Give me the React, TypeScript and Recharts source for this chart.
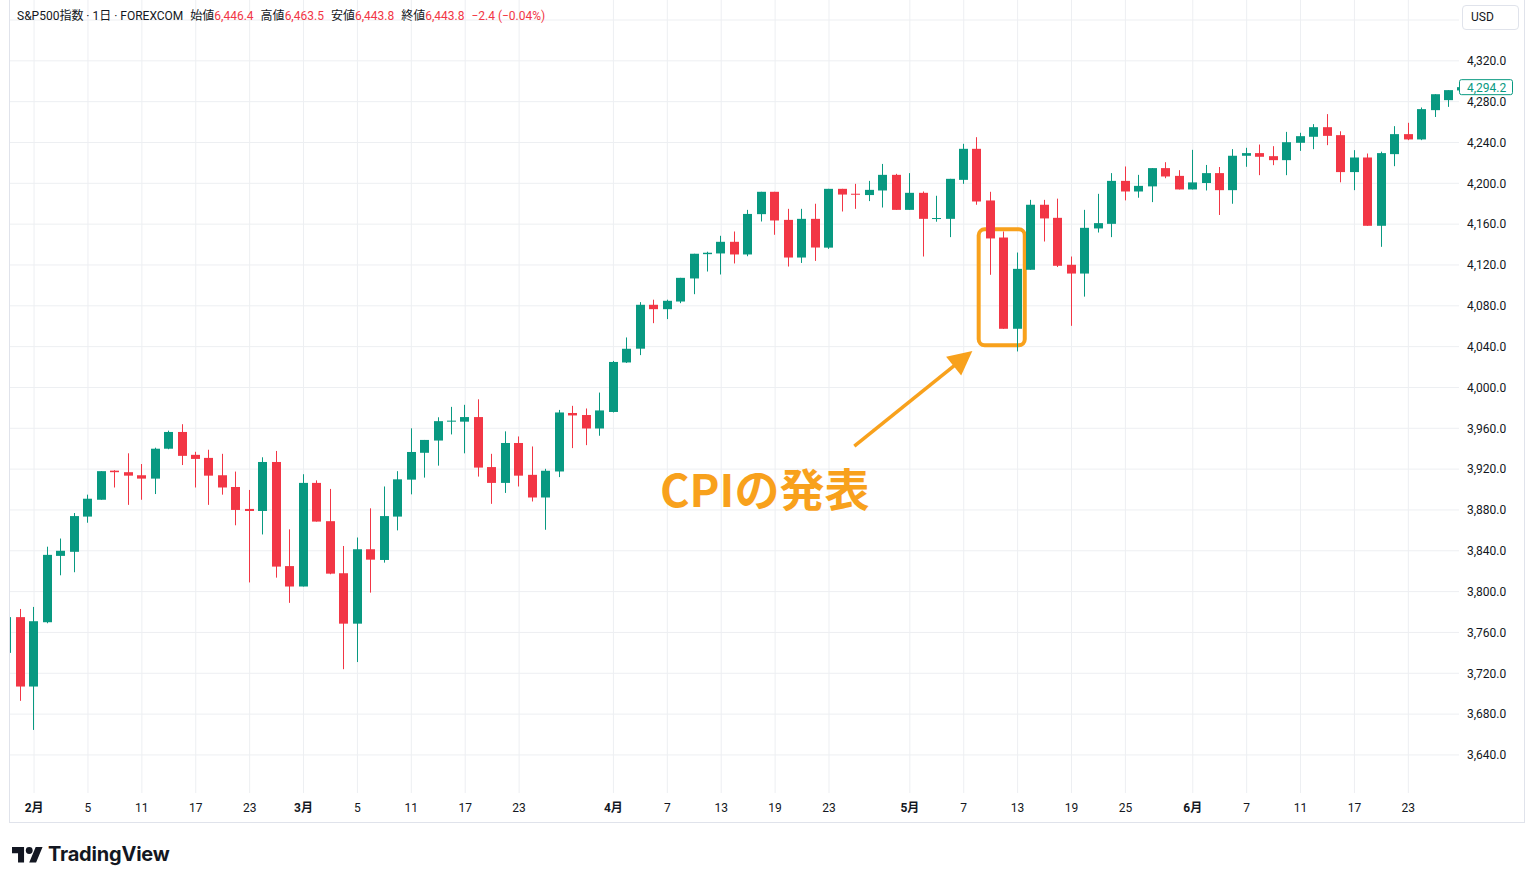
import React from 'react';
import {
  ComposedChart, Bar, XAxis, YAxis, CartesianGrid, ReferenceLine, ReferenceArea,
} from 'recharts';

// S&P500 CFD daily candles, Jan 28 - Jun 29 (first and last ones are cut by the plot edges)
const dates = [
  '1/28', '1/29',
  '2/1', '2/2', '2/3', '2/4', '2/5', '2/8', '2/9', '2/10', '2/11', '2/12', '2/15', '2/16', '2/17', '2/18', '2/19', '2/22', '2/23', '2/24', '2/25', '2/26',
  '3/1', '3/2', '3/3', '3/4', '3/5', '3/8', '3/9', '3/10', '3/11', '3/12', '3/15', '3/16', '3/17', '3/18', '3/19', '3/22', '3/23', '3/24', '3/25', '3/26', '3/29', '3/30', '3/31',
  '4/1', '4/2', '4/5', '4/6', '4/7', '4/8', '4/9', '4/12', '4/13', '4/14', '4/15', '4/16', '4/19', '4/20', '4/21', '4/22', '4/23', '4/26', '4/27', '4/28', '4/29', '4/30',
  '5/3', '5/4', '5/5', '5/6', '5/7', '5/10', '5/11', '5/12', '5/13', '5/14', '5/17', '5/18', '5/19', '5/20', '5/21', '5/24', '5/25', '5/26', '5/27', '5/28', '5/31',
  '6/1', '6/2', '6/3', '6/4', '6/7', '6/8', '6/9', '6/10', '6/11', '6/14', '6/15', '6/16', '6/17', '6/18', '6/21', '6/22', '6/23', '6/24', '6/25', '6/28', '6/29',
];

const opens = [
  3740, 3775, 3707, 3770, 3835, 3839, 3873.5, 3890, 3918.5, 3917, 3914, 3910.7, 3940, 3956.4, 3934, 3931, 3914, 3902.5, 3881, 3879, 3927, 3825,
  3805, 3906.5, 3869, 3818, 3768.6, 3841.5, 3831, 3873.5, 3909.7, 3936, 3948, 3966.5, 3966.5, 3971, 3922, 3906.5, 3945.6, 3914.4, 3892.2, 3917.7, 3975, 3973, 3959.8,
  3976, 4024.5, 4038, 4081, 4076.7, 4084.2, 4106.8, 4130.6, 4131.3, 4142.7, 4130.3, 4169.8, 4191.7, 4164.2, 4127.3, 4165.2, 4137, 4194.6, 4189.8, 4188.5, 4193, 4208.3,
  4174, 4190.7, 4165.2, 4165.2, 4203.4, 4233.8, 4183.2, 4146.9, 4057.5, 4115.3, 4179, 4166.2, 4120.2, 4111.6, 4155.8, 4160.3, 4202.4, 4192, 4197, 4214.9, 4207.3,
  4194, 4200.3, 4210, 4193.3, 4227, 4229.6, 4226.6, 4222.7, 4239.7, 4245.6, 4255, 4247.2, 4211, 4225.3, 4158.4, 4228.6, 4248.2, 4243, 4271.7, 4281.5, 4291,
];

const highs = [
  3790, 3783, 3785, 3844, 3852, 3877, 3895, 3918, 3919, 3935.5, 3925, 3941, 3957.7, 3964, 3937, 3939, 3935, 3917.6, 3899.6, 3931.6, 3937.8, 3861,
  3915, 3909, 3900.6, 3844.7, 3853, 3881.6, 3903, 3918, 3960, 3948.6, 3970.8, 3981, 3983, 3988.4, 3935, 3957, 3952, 3942.2, 3920.3, 3978, 3982, 3979.4, 3995,
  4026, 4049, 4083.6, 4086, 4086, 4107.4, 4131, 4133, 4148.6, 4152.8, 4174, 4191.7, 4191.7, 4175, 4175, 4180, 4194.6, 4194.6, 4199.5, 4202.4, 4219, 4209.3,
  4210, 4192, 4187.8, 4204.4, 4238.7, 4245.2, 4191.7, 4152.8, 4132.2, 4183.8, 4183.8, 4185, 4128.3, 4174, 4189.7, 4210, 4216.5, 4208.3, 4214.9, 4220.7, 4212.9,
  4232.8, 4218, 4216, 4233.5, 4234.8, 4238, 4236.4, 4250.4, 4249.5, 4258, 4267.8, 4251, 4232.5, 4229.2, 4231, 4256, 4259.3, 4274.3, 4287.3, 4291.3, 4296,
];

const lows = [
  3735, 3693, 3664.5, 3769, 3816, 3819, 3867.5, 3890, 3902, 3885, 3890, 3895.6, 3939.5, 3924, 3902, 3885, 3895, 3865, 3809, 3856, 3813.7, 3789,
  3805, 3868.6, 3817, 3724, 3731, 3799, 3828.4, 3860, 3895.3, 3911.7, 3923.4, 3954, 3935.5, 3912.7, 3886, 3896.7, 3903, 3888.3, 3860.6, 3912.2, 3940.6, 3943.5, 3952.7,
  3975.5, 4024, 4031.7, 4063, 4067, 4082.6, 4091.4, 4113.6, 4110.7, 4121.5, 4128.6, 4162.6, 4149.6, 4118.5, 4122, 4124, 4135.8, 4172.4, 4175, 4182.6, 4176.3, 4174,
  4174, 4128.3, 4162.4, 4147.3, 4199.5, 4179, 4110.4, 4057.5, 4035.3, 4115.3, 4143, 4118, 4060.4, 4089, 4151.8, 4147.3, 4183.3, 4185.9, 4181.6, 4205, 4194,
  4194, 4193, 4169, 4180, 4216.2, 4208, 4217.8, 4208, 4231.8, 4233.5, 4237.4, 4201, 4193.3, 4158.4, 4137.8, 4216.8, 4242.3, 4242.3, 4265, 4274.9, 4288,
];

const closes = [
  3775, 3707, 3771, 3836, 3840, 3874, 3891, 3918, 3917, 3913.6, 3910.7, 3940, 3956.4, 3933, 3930, 3913.6, 3902, 3880, 3879, 3927, 3824.5, 3805,
  3906.5, 3868.6, 3817.6, 3768.6, 3841.5, 3831.3, 3874, 3910, 3936.8, 3948.6, 3967, 3967.5, 3971, 3921.5, 3906.5, 3945.6, 3913.6, 3892.2, 3918.4, 3975.5, 3972.6, 3959.8, 3977.5,
  4025, 4037.9, 4081, 4076.7, 4084.9, 4107.4, 4131, 4132, 4142.7, 4130.3, 4170, 4191.7, 4163.6, 4127.3, 4165.2, 4137.1, 4194.6, 4189, 4189, 4193.6, 4208.3, 4174,
  4190.7, 4165.2, 4166, 4204.4, 4233.8, 4182.2, 4146, 4057.5, 4116.2, 4179, 4165.6, 4119.2, 4111.6, 4156.4, 4161, 4202.4, 4192, 4197.5, 4214.9, 4206.7, 4194,
  4200.9, 4210, 4193.3, 4227, 4229.6, 4226, 4222.7, 4240.3, 4246.2, 4255, 4246.5, 4211, 4225.3, 4158.4, 4229.6, 4248.2, 4243, 4272.7, 4287.3, 4291.3, 4294.2,
];

const tickDates = ['2/1', '2/5', '2/11', '2/17', '2/23', '3/1', '3/5', '3/11', '3/17', '3/23', '4/1', '4/7', '4/13', '4/19', '4/23', '5/3', '5/7', '5/13', '5/19', '5/25', '6/1', '6/7', '6/11', '6/17', '6/23'];
const tickLabels = ['2月', '5', '11', '17', '23', '3月', '5', '11', '17', '23', '4月', '7', '13', '19', '23', '5月', '7', '13', '19', '25', '6月', '7', '11', '17', '23'];
const priceTicks = [3640, 3680, 3720, 3760, 3800, 3840, 3880, 3920, 3960, 4000, 4040, 4080, 4120, 4160, 4200, 4240, 4280, 4320];
const gridPrices = [...priceTicks, 4360];

const UP = '#089981';
const DOWN = '#F23645';
const ORANGE = '#F8A11C';
const TEXT = '#131722';
const FONT = "Roboto, 'Noto Sans CJK JP', sans-serif";

const data = dates.map((d, k) => ({
  i: k - 1,
  d,
  o: opens[k],
  h: highs[k],
  l: lows[k],
  c: closes[k],
  range: [lows[k], highs[k]],
}));
const tickIdx = tickDates.map((d) => dates.indexOf(d) - 1);
const lastClose = closes[closes.length - 1];

const Candle = (props: any) => {
  const { x, y, width, height, payload } = props;
  if (x == null || y == null || !payload) return null;
  const top = Math.min(y, y + height);
  const span = Math.abs(height);
  const { o, h, l, c } = payload;
  const k = h > l ? span / (h - l) : 0;
  const yO = top + (h - o) * k;
  const yC = top + (h - c) * k;
  const cx = Math.floor(x + width / 2) + 0.5;
  const color = c >= o ? UP : DOWN;
  const bodyTop = Math.min(yO, yC);
  const bodyH = Math.max(1, Math.abs(yO - yC));
  return (
    <g>
      <rect x={cx - 0.5} y={top} width={1} height={span} fill={color} />
      <rect x={cx - 4.5} y={bodyTop} width={9} height={bodyH} fill={color} />
    </g>
  );
};

const DateTick = (props: any) => {
  const { x, y, payload } = props;
  const label = tickLabels[tickIdx.indexOf(payload.value)] ?? '';
  const bold = label.endsWith('月');
  return (
    <text x={x} y={y + 11} textAnchor="middle" fontSize={12} fontWeight={bold ? 700 : 400} fill={TEXT}>
      {label}
    </text>
  );
};

const PriceTag = (props: any) => {
  const vb = props.viewBox || {};
  const left = vb.x + vb.width;
  const y = vb.y;
  return (
    <g>
      <rect x={left + 0.5} y={y - 7.5} width={53} height={15} rx={2} fill="#fff" stroke={UP} strokeWidth={1} />
      <text x={left + 8} y={y + 4.5} fontSize={12} fill={UP}>
        {lastClose.toLocaleString('en-US', { minimumFractionDigits: 1 })}
      </text>
    </g>
  );
};

const Arrow = (p: any) => {
  const { x1, y1, x2, y2 } = p;
  if (x1 == null) return null;
  const dx = x2 - x1;
  const dy = y2 - y1;
  const len = Math.hypot(dx, dy) || 1;
  const ux = dx / len;
  const uy = dy / len;
  const hl = 24;
  const hw = 12;
  const bx = x2 - ux * hl;
  const by = y2 - uy * hl;
  const pts = `${x2},${y2} ${bx - uy * hw},${by + ux * hw} ${bx + uy * hw},${by - ux * hw}`;
  return (
    <g>
      <line x1={x1} y1={y1} x2={bx + ux * 2} y2={by + uy * 2} stroke={ORANGE} strokeWidth={3.5} />
      <polygon points={pts} fill={ORANGE} />
    </g>
  );
};

const Box = (p: any) => (
  <rect x={p.x} y={p.y} width={p.width} height={p.height} rx={6} fill="none" stroke={ORANGE} strokeWidth={4} />
);

const Header = () => {
  const red = { color: DOWN };
  const gap = { marginLeft: 7 };
  return (
    <div style={{ position: 'absolute', left: 17, top: 8, fontSize: 12, color: TEXT, whiteSpace: 'nowrap', lineHeight: '16px' }}>
      <span>S&amp;P500指数 · 1日 · FOREXCOM</span>
      <span style={gap}>始値<span style={red}>6,446.4</span></span>
      <span style={gap}>高値<span style={red}>6,463.5</span></span>
      <span style={gap}>安値<span style={red}>6,443.8</span></span>
      <span style={gap}>終値<span style={red}>6,443.8</span></span>
      <span style={{ ...gap, ...red }}>−2.4 (−0.04%)</span>
    </div>
  );
};

const Logo = () => (
  <div style={{ position: 'absolute', left: 12, top: 842, display: 'flex', alignItems: 'center', color: TEXT }}>
    <svg width="31" height="18" viewBox="0 2 36 20">
      <path d="M14 22H7V11H0V4h14v18zM28 22h-8l7.5-18h8L28 22z" fill={TEXT} />
      <circle cx="20" cy="8" r="4" fill={TEXT} />
    </svg>
    <span style={{ marginLeft: 5, fontFamily: 'Inter, sans-serif', fontWeight: 700, fontSize: 20, letterSpacing: -0.2 }}>TradingView</span>
  </div>
);

export default function App() {
  return (
    <div style={{ position: 'absolute', left: 0, top: 0, width: 1534, height: 882, background: '#fff', fontFamily: FONT, overflow: 'hidden' }}>
      <div style={{ position: 'absolute', left: 9, top: -1, width: 1516, height: 824, border: '1px solid #E0E3EB', boxSizing: 'border-box' }} />
      <div style={{ position: 'absolute', left: 10, top: 0 }}>
        <ComposedChart width={1514} height={822} data={data} margin={{ top: 0, right: 0, bottom: 0, left: 0 }}>
          <CartesianGrid stroke="#EDEFF2" horizontalValues={gridPrices} verticalValues={tickIdx} />
          <XAxis
            type="number"
            dataKey="i"
            domain={[-0.787, 106.76]}
            allowDataOverflow
            ticks={tickIdx}
            interval={0}
            height={29}
            tickLine={false}
            axisLine={false}
            tick={<DateTick />}
          />
          <YAxis
            orientation="right"
            width={65}
            domain={[3602.7, 4379.6]}
            allowDataOverflow
            ticks={priceTicks}
            interval={0}
            tickLine={false}
            axisLine={false}
            tick={{ fontSize: 12, fill: TEXT }}
            tickFormatter={(v: number) => v.toLocaleString('en-US', { minimumFractionDigits: 1 })}
          />
          <Bar dataKey="range" barSize={9} shape={<Candle />} isAnimationActive={false} />
          <ReferenceArea x1={71.11} x2={74.53} y1={4041.3} y2={4154.9} shape={<Box />} ifOverflow="visible" />
          <ReferenceLine segment={[{ x: 61.88, y: 3942.6 }, { x: 70.64, y: 4035.7 }]} shape={<Arrow />} ifOverflow="visible" />
          <ReferenceLine y={lastClose} stroke="none" ifOverflow="visible" label={<PriceTag />} />
        </ComposedChart>
      </div>
      <Header />
      <div style={{ position: 'absolute', left: 1462, top: 5, width: 57, height: 25, border: '1px solid #E0E3EB', borderRadius: 4, boxSizing: 'border-box', fontSize: 12, lineHeight: '23px', paddingLeft: 8, color: TEXT }}>
        USD
      </div>
      <div style={{ position: 'absolute', left: 660, top: 466, fontSize: 45, lineHeight: '44px', fontWeight: 700, color: ORANGE, fontFamily: "'Noto Sans CJK JP', sans-serif", whiteSpace: 'nowrap' }}>
        CPIの発表
      </div>
      <Logo />
    </div>
  );
}
